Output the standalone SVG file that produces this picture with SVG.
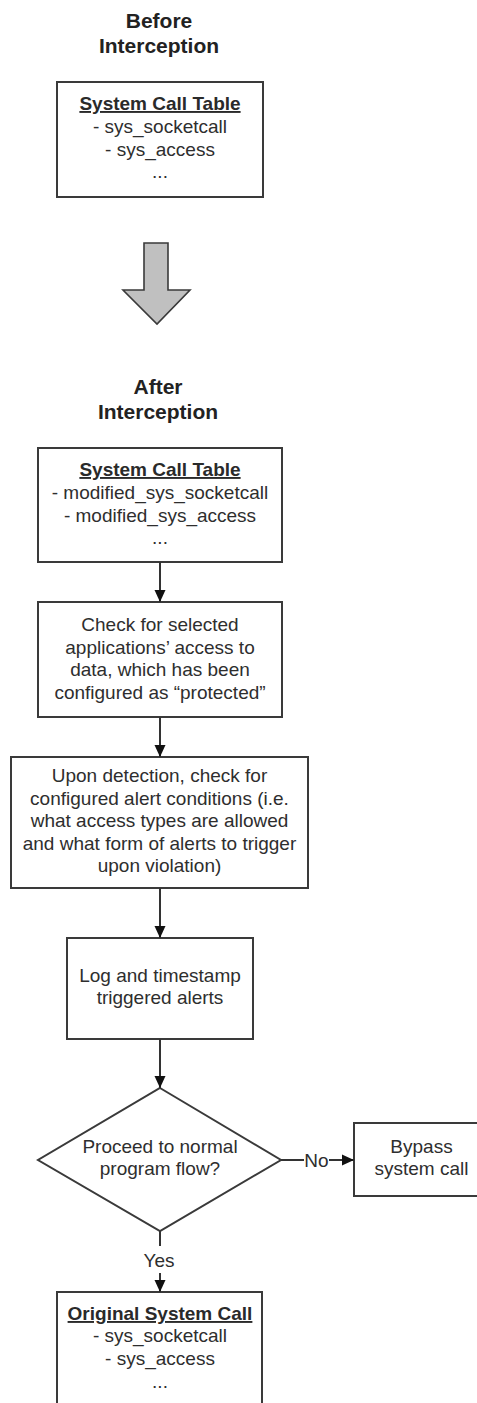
<svg xmlns="http://www.w3.org/2000/svg" width="477" height="1403" viewBox="0 0 477 1403">
  <style>
    .box { fill: #ffffff; stroke: #3a3a3a; stroke-width: 2; }
    .head { font-family: "Liberation Sans", Arial, sans-serif; font-size: 21px; font-weight: bold; fill: #222222; text-anchor: middle; }
    .title { font-family: "Liberation Sans", Arial, sans-serif; font-size: 19px; font-weight: bold; fill: #2a2a2a; text-anchor: middle; text-decoration: underline; }
    .txt { font-family: "Liberation Sans", Arial, sans-serif; font-size: 19px; fill: #2e2e2e; text-anchor: middle; }
    .lbl { font-family: "Liberation Sans", Arial, sans-serif; font-size: 19px; fill: #2e2e2e; text-anchor: middle; }
    .edge { fill: none; stroke: #333333; stroke-width: 2; }
  </style>
  <defs>
    <marker id="arrow" viewBox="0 0 12 12" refX="12" refY="6" markerWidth="12" markerHeight="12" markerUnits="userSpaceOnUse" orient="auto">
      <path d="M0,0.5 L12,6 L0,11.5 Z" fill="#111111"/>
    </marker>
  </defs>

  <rect width="477" height="1403" fill="#ffffff"/>

  <!-- section headings -->
  <g id="heading-before">
    <text class="head" x="159" y="28">Before</text>
    <text class="head" x="159" y="53">Interception</text>
  </g>
  <g id="heading-after">
    <text class="head" x="158" y="394">After</text>
    <text class="head" x="158" y="419">Interception</text>
  </g>

  <!-- original table -->
  <g id="table-before">
    <rect class="box" x="57" y="82" width="206" height="115"/>
    <text class="title" x="160" y="110">System Call Table</text>
    <text class="txt" x="160" y="133">- sys_socketcall</text>
    <text class="txt" x="160" y="156">- sys_access</text>
    <text class="txt" x="160" y="178">...</text>
  </g>

  <!-- transition arrow -->
  <g id="transition">
    <path d="M144,243 L168,243 L168,290 L190,290 L157,324 L123,290 L144,290 Z" fill="#c0c0c0" stroke="#3a3a3a" stroke-width="1.6" stroke-linejoin="miter"/>
  </g>

  <!-- hooked table -->
  <g id="table-after">
    <rect class="box" x="38" y="448" width="244" height="114"/>
    <text class="title" x="160" y="476">System Call Table</text>
    <text class="txt" x="160" y="499">- modified_sys_socketcall</text>
    <text class="txt" x="160" y="522">- modified_sys_access</text>
    <text class="txt" x="160" y="544">...</text>
  </g>

  <g id="check-access">
    <rect class="box" x="38" y="602" width="244" height="115"/>
    <text class="txt" x="160" y="631">Check for selected</text>
    <text class="txt" x="160" y="654">applications’ access to</text>
    <text class="txt" x="160" y="676">data, which has been</text>
    <text class="txt" x="160" y="699">configured as “protected”</text>
  </g>

  <g id="check-conditions">
    <rect class="box" x="11" y="757" width="297" height="131"/>
    <text class="txt" x="159.5" y="782">Upon detection, check for</text>
    <text class="txt" x="159.5" y="804.5">configured alert conditions (i.e.</text>
    <text class="txt" x="159.5" y="827">what access types are allowed</text>
    <text class="txt" x="159.5" y="849.5">and what form of alerts to trigger</text>
    <text class="txt" x="159.5" y="872">upon violation)</text>
  </g>

  <g id="log-alerts">
    <rect class="box" x="67" y="938" width="186" height="101"/>
    <text class="txt" x="160" y="982">Log and timestamp</text>
    <text class="txt" x="160" y="1004">triggered alerts</text>
  </g>

  <g id="decision">
    <polygon class="box" points="160,1088 281,1160 160,1231 38,1160"/>
    <text class="txt" x="160" y="1153">Proceed to normal</text>
    <text class="txt" x="160" y="1175">program flow?</text>
  </g>

  <g id="bypass">
    <rect class="box" x="354" y="1123" width="135" height="73"/>
    <text class="txt" x="421.5" y="1153">Bypass</text>
    <text class="txt" x="421.5" y="1175">system call</text>
  </g>

  <g id="original-call">
    <rect class="box" x="57" y="1292" width="205" height="130"/>
    <text class="title" x="160" y="1320">Original System Call</text>
    <text class="txt" x="160" y="1342">- sys_socketcall</text>
    <text class="txt" x="160" y="1365">- sys_access</text>
    <text class="txt" x="160" y="1388">...</text>
  </g>

  <!-- connectors -->
  <g id="connectors">
    <line class="edge" x1="160" y1="562" x2="160" y2="602" marker-end="url(#arrow)"/>
    <line class="edge" x1="160" y1="717" x2="160" y2="757" marker-end="url(#arrow)"/>
    <line class="edge" x1="160" y1="888" x2="160" y2="938" marker-end="url(#arrow)"/>
    <line class="edge" x1="160" y1="1039" x2="160" y2="1088" marker-end="url(#arrow)"/>
    <line class="edge" x1="281" y1="1160" x2="304" y2="1160"/>
    <text class="lbl" x="316.5" y="1167">No</text>
    <line class="edge" x1="329" y1="1160" x2="354" y2="1160" marker-end="url(#arrow)"/>
    <line class="edge" x1="160" y1="1231" x2="160" y2="1246"/>
    <text class="lbl" x="159" y="1267">Yes</text>
    <line class="edge" x1="160" y1="1273" x2="160" y2="1292" marker-end="url(#arrow)"/>
  </g>
</svg>
